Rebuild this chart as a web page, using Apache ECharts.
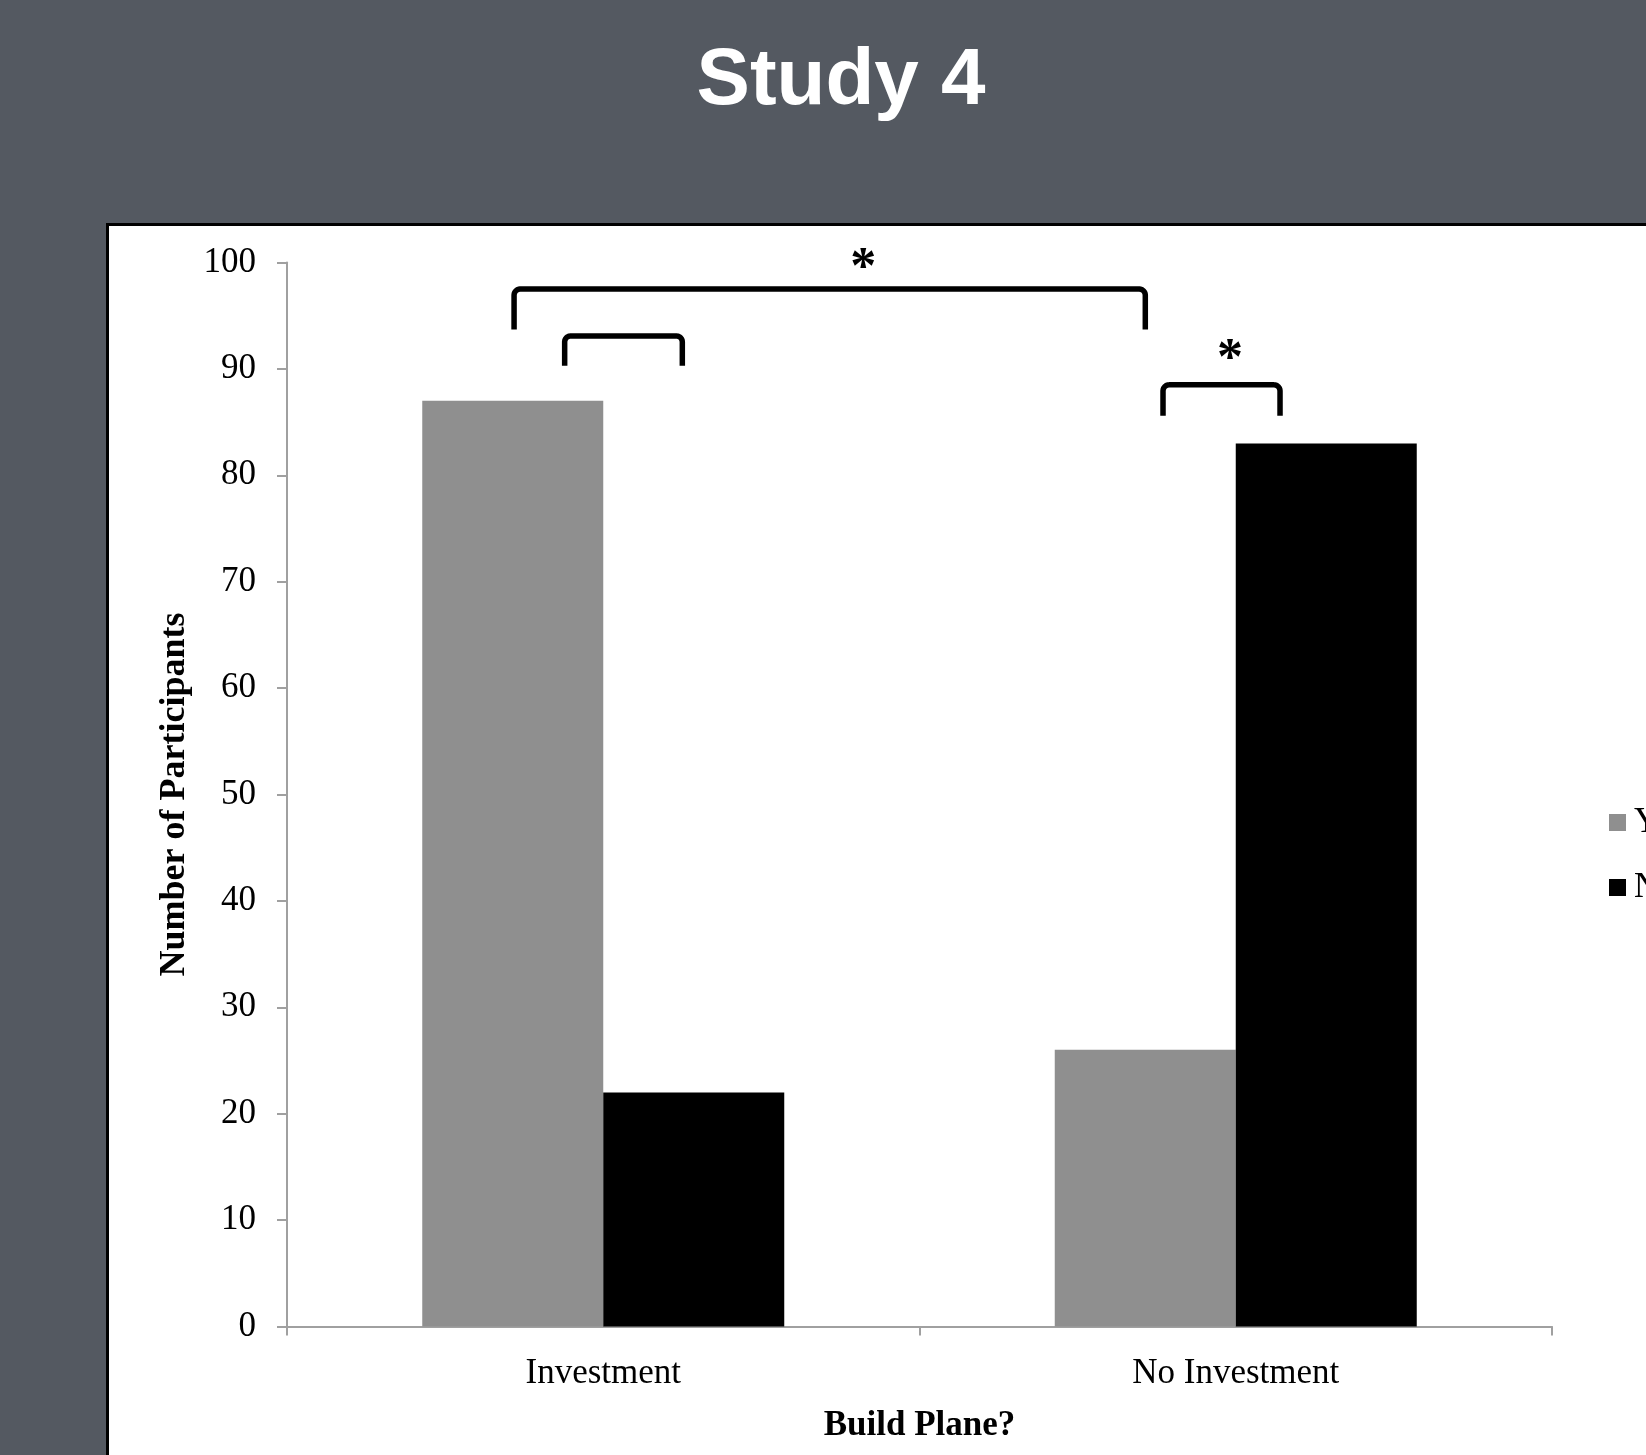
<!DOCTYPE html>
<html>
<head>
<meta charset="utf-8">
<script src="https://cdn.jsdelivr.net/npm/echarts@6/dist/echarts.min.js"></script>
<style>
html,body{margin:0;padding:0;background:#545961;}
#chart{width:1646px;height:1455px;}
</style>
</head>
<body>
<div id="chart"></div>
<script>
// ---- data ----
const categories = ['Investment', 'No Investment'];
const seriesNames = ['Yes', 'No'];
const yesValues = [87, 26];
const noValues = [22, 83];
// significance brackets: [xLeft, xRight, yTop, yBottom] (x in category units, 0 = first category centre)
const brackets = [
  [-0.141, 0.857, 97.5, 93.7],
  [-0.061, 0.125, 93.1, 90.3],
  [0.885, 1.070, 88.5, 85.6]
];
// significance stars: [x, y]
const stars = [
  [0.411, 100.4],
  [0.991, 91.8]
];

const chart = echarts.init(document.getElementById('chart'), null, {renderer: 'canvas'});

function bracketPoints(p1, p2, p3, p4, r) {
  const pts = [p1];
  const n = 6;
  for (let i = 0; i <= n; i++) {
    const a = Math.PI - (Math.PI / 2) * (i / n);
    pts.push([p2[0] + r + r * Math.cos(a), p2[1] + r - r * Math.sin(a)]);
  }
  for (let i = 0; i <= n; i++) {
    const a = Math.PI / 2 - (Math.PI / 2) * (i / n);
    pts.push([p3[0] - r + r * Math.cos(a), p3[1] + r - r * Math.sin(a)]);
  }
  pts.push(p4);
  return pts;
}

const option = {
  backgroundColor: '#545961',
  animation: false,
  title: {
    text: 'Study 4',
    left: 836,
    top: 37,
    textAlign: 'center',
    textStyle: {
      color: '#ffffff',
      fontFamily: 'Liberation Sans',
      fontWeight: 'bold',
      fontSize: 80
    }
  },
  graphic: [{
    type: 'rect',
    z: -10,
    shape: {x: 107.5, y: 224.5, width: 1700, height: 1400},
    style: {fill: '#ffffff', stroke: '#000000', lineWidth: 3}
  }],
  legend: {
    data: seriesNames,
    orient: 'vertical',
    left: 1604,
    top: 795,
    itemWidth: 17,
    itemHeight: 17,
    itemGap: 20,
    icon: 'rect',
    textStyle: {
      fontFamily: 'Liberation Serif',
      fontSize: 35,
      color: '#000',
      lineHeight: 45,
      padding: [0, 0, 0, 3]
    }
  },
  grid: {left: 287, top: 262.5, width: 1265, height: 1064, containLabel: false},
  xAxis: [{
    type: 'category',
    data: categories,
    name: 'Build Plane?',
    nameLocation: 'middle',
    nameGap: 82,
    nameTextStyle: {fontFamily: 'Liberation Serif', fontWeight: 'bold', fontSize: 35, color: '#000'},
    axisLine: {lineStyle: {color: '#a0a0a0', width: 2}},
    axisTick: {show: true, length: 9, lineStyle: {color: '#a0a0a0', width: 2}},
    axisLabel: {fontFamily: 'Liberation Serif', fontSize: 35, color: '#000', margin: 30},
    splitLine: {show: false}
  }, {
    type: 'value',
    min: -0.5,
    max: 1.5,
    show: false,
    position: 'bottom'
  }],
  yAxis: {
    type: 'value',
    min: 0,
    max: 100,
    interval: 10,
    name: 'Number of Participants',
    nameLocation: 'middle',
    nameRotate: 90,
    nameGap: 93,
    nameTextStyle: {fontFamily: 'Liberation Serif', fontWeight: 'bold', fontSize: 36, color: '#000'},
    axisLine: {show: true, onZero: false, lineStyle: {color: '#a0a0a0', width: 2}},
    axisTick: {show: true, length: 10, lineStyle: {color: '#a0a0a0', width: 2}},
    axisLabel: {fontFamily: 'Liberation Serif', fontSize: 35, color: '#000', margin: 31, padding: [5, 0, 0, 0]},
    splitLine: {show: false}
  },
  series: [{
    name: 'Yes',
    type: 'bar',
    data: yesValues,
    barWidth: 181,
    barGap: '0%',
    itemStyle: {color: '#8f8f8f'}
  }, {
    name: 'No',
    type: 'bar',
    data: noValues,
    barWidth: 181,
    barGap: '0%',
    itemStyle: {color: '#000000'}
  }, {
    name: 'brackets',
    type: 'custom',
    xAxisIndex: 1,
    yAxisIndex: 0,
    data: brackets,
    silent: true,
    clip: false,
    renderItem: function (params, api) {
      const x1 = api.value(0), x2 = api.value(1), yt = api.value(2), yb = api.value(3);
      const p1 = api.coord([x1, yb]);
      const p2 = api.coord([x1, yt]);
      const p3 = api.coord([x2, yt]);
      const p4 = api.coord([x2, yb]);
      return {
        type: 'polyline',
        shape: {points: bracketPoints(p1, p2, p3, p4, 6)},
        style: {stroke: '#000', lineWidth: 5.5, fill: null, lineJoin: 'round'}
      };
    }
  }, {
    name: 'stars',
    type: 'custom',
    xAxisIndex: 1,
    yAxisIndex: 0,
    data: stars,
    silent: true,
    clip: false,
    renderItem: function (params, api) {
      const p = api.coord([api.value(0), api.value(1)]);
      return {
        type: 'text',
        x: p[0],
        y: p[1] + 11,
        style: {
          text: '*',
          fontFamily: 'Liberation Serif',
          fontWeight: 'bold',
          fontSize: 52,
          fill: '#000',
          align: 'center',
          verticalAlign: 'middle'
        }
      };
    }
  }]
};

chart.setOption(option);
</script>
</body>
</html>
